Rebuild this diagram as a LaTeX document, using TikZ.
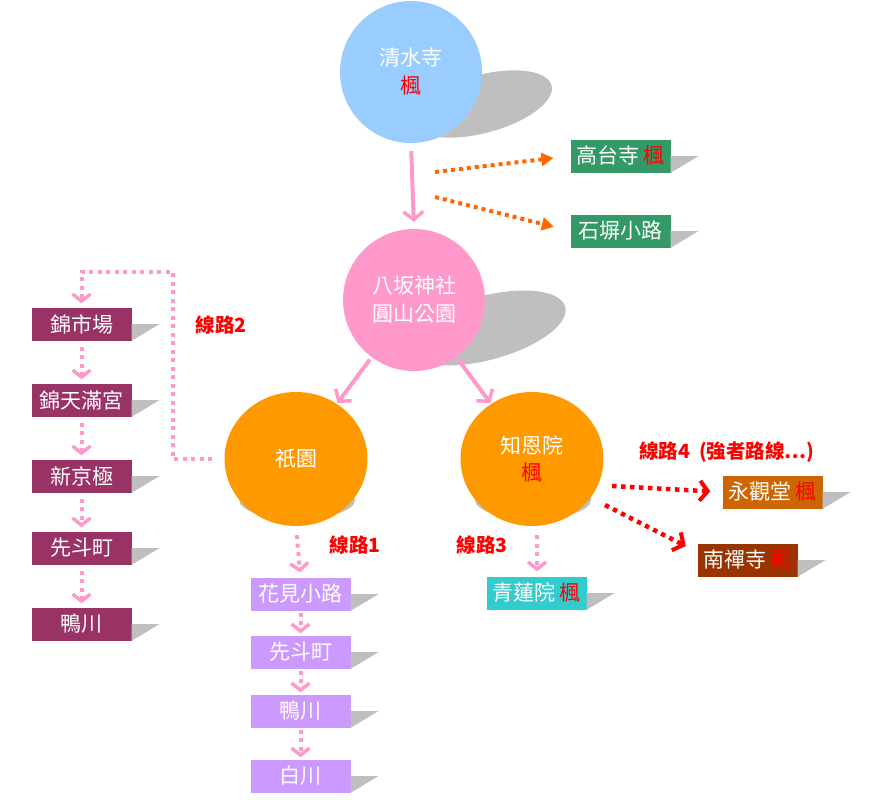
\documentclass[tikz,border=0pt]{standalone}
\usepackage{fontspec}
\setmainfont{Liberation Sans}
\newfontfamily\cjk{Noto Sans CJK TC}
\usetikzlibrary{arrows.meta,shapes.geometric,calc}
\definecolor{qsblue}{HTML}{99CCFF}
\definecolor{ypink}{HTML}{FF99CC}
\definecolor{gorange}{HTML}{FF9900}
\definecolor{bgreen}{HTML}{339966}
\definecolor{bmag}{HTML}{993366}
\definecolor{bpurp}{HTML}{CC99FF}
\definecolor{bteal}{HTML}{33CCCC}
\definecolor{beik}{HTML}{CC6600}
\definecolor{bnan}{HTML}{993300}
\definecolor{shadowc}{HTML}{BFBFBF}
\definecolor{arrorange}{HTML}{FF6600}
\definecolor{kred}{HTML}{FF0000}
\begin{document}
\begin{tikzpicture}[x=1pt,y=-1pt,
  circ/.style={circle,minimum size=142pt,inner sep=0pt,text=white,align=center,font=\cjk\fontsize{21}{28}\selectfont},
  oval/.style={ellipse,minimum width=143pt,minimum height=134pt,inner sep=0pt,text=white,align=center,font=\cjk\fontsize{21}{27}\selectfont},
  bx/.style={rectangle,minimum width=100pt,minimum height=33pt,inner sep=0pt,text=white,font=\cjk\fontsize{21}{23}\selectfont},
  sh/.style={fill=shadowc},
  pinksolid/.style={draw=ypink,line width=4pt,-{Straight Barb[length=8pt,width=20pt,line width=3.5pt]}},
  pinkdot/.style={draw=ypink,line width=4pt,dash pattern=on 4pt off 4.5pt,-{Straight Barb[length=7pt,width=18pt,line width=3.5pt]}},
  orangedot/.style={draw=arrorange,line width=4pt,dash pattern=on 4pt off 4pt,-{Triangle[length=12pt,width=13pt]}},
  reddot/.style={draw=kred,line width=4.5pt,dash pattern=on 4.5pt off 4.5pt,-{Straight Barb[length=8pt,width=20pt,line width=4pt]}},
  route/.style={text=kred,font=\cjk\bfseries\fontsize{19.5}{22}\selectfont}
]
\useasboundingbox (0,0) rectangle (870,800);

% circle shadows
\fill[sh,rotate around={15:(482,104)}] (482,104) ellipse (72pt and 29pt);
\fill[sh,rotate around={15:(486,328)}] (486,328) ellipse (82pt and 32pt);
\fill[sh] (297,500) ellipse (58pt and 19pt);
\fill[sh] (533,500) ellipse (58pt and 19pt);

% circles
\node[circ,fill=qsblue] (qs) at (411,72) {清水寺\\{\color{kred}楓}};
\node[circ,fill=ypink] (ys) at (414,300) {八坂神社\\圓山公園};
\node[oval,fill=gorange] (gion) at (296,459) {祇園};
\node[oval,fill=gorange] (chion) at (532,459) {知恩院\\{\color{kred}楓}};

% boxes
\node[bx,fill=bgreen] (kodai) at (620.5,156) {高台寺 {\color{kred}楓}};
\node[bx,fill=bgreen] (ishi) at (620.5,231) {石塀小路};

\node[bx,fill=bmag] (nishiki) at (81.5,324) {錦市場};
\node[bx,fill=bmag] (tenman) at (81.5,400) {錦天滿宮};
\node[bx,fill=bmag] (shinkyo) at (81.5,476) {新京極};
\node[bx,fill=bmag] (ponto) at (81.5,548) {先斗町};
\node[bx,fill=bmag] (kamo) at (81.5,624) {鴨川};

\node[bx,fill=bpurp] (hanami) at (300.5,594) {花見小路};
\node[bx,fill=bpurp] (ponto2) at (300.5,652) {先斗町};
\node[bx,fill=bpurp] (kamo2) at (300.5,711) {鴨川};
\node[bx,fill=bpurp] (shira) at (300.5,776) {白川};

\node[bx,fill=bteal] (shoren) at (536.5,593) {青蓮院 {\color{kred}楓}};
\node[bx,fill=beik] (eikan) at (772.5,492) {永觀堂 {\color{kred}楓}};
\node[bx,fill=bnan] (nanzen) at (747.5,560) {南禪寺 {\color{kred}楓}};

% box shadows
\foreach \n in {kodai,ishi,nishiki,tenman,shinkyo,ponto,kamo,hanami,ponto2,kamo2,shira,shoren,eikan,nanzen}
  \fill[sh] (\n.east) -- ([xshift=28pt]\n.east) -- (\n.south east) -- cycle;

% labels
\node[route] (r2) at (221,325) {線路2};
\node[route] (r1) at (355,545) {線路1};
\node[route] (r3) at (482,545) {線路3};
\node[route] (r4) at (727,452) {線路4\ \ (強者路線…)};

% solid pink arrows
\draw[pinksolid,shorten <=8pt,shorten >=7pt] (qs.south) -- (ys.north);
\draw[pinksolid,shorten <=3pt,shorten >=1pt] (ys) -- (gion);
\draw[pinksolid,shorten <=3pt,shorten >=1pt] (ys) -- (chion);

% orange dotted arrows
\coordinate (o1) at (435,172);
\coordinate (o2) at (435,197);
\draw[orangedot,shorten >=17pt] (o1) -- (kodai.west);
\draw[orangedot,shorten >=17pt] (o2) -- (ishi.west);

% red dotted arrows
\coordinate (rr1) at (612,486);
\coordinate (rr2) at (605,505);
\draw[reddot,shorten >=12pt] (rr1) -- (eikan.west);
\draw[reddot,shorten >=13pt] (rr2) -- ([yshift=8pt]nanzen.west);

% pink dotted arrows down
\draw[pinkdot,shorten <=9pt,shorten >=5pt] (gion.south) -- (hanami.north);
\draw[pinkdot,shorten <=2pt,shorten >=2pt] (hanami.south) -- (ponto2.north);
\draw[pinkdot,shorten <=2pt,shorten >=2pt] (ponto2.south) -- (kamo2.north);
\draw[pinkdot,shorten <=2pt,shorten >=2pt] (kamo2.south) -- (shira.north);
\draw[pinkdot,shorten <=9pt,shorten >=5pt] ([xshift=5pt]chion.south) -- ([xshift=5pt]chion.south |- shoren.north);

\draw[pinkdot,shorten <=6pt,shorten >=4pt] (nishiki.south) -- (tenman.north);
\draw[pinkdot,shorten <=6pt,shorten >=4pt] (tenman.south) -- (shinkyo.north);
\draw[pinkdot,shorten <=6pt,shorten >=4pt] (shinkyo.south) -- (ponto.north);
\draw[pinkdot,shorten <=6pt,shorten >=4pt] (ponto.south) -- (kamo.north);

% route 2 connector
\coordinate (c2) at (173,272);
\draw[pinkdot,shorten >=4pt] ([xshift=-12pt]gion.west) -| (c2) -| (nishiki.north);
\end{tikzpicture}
\end{document}
